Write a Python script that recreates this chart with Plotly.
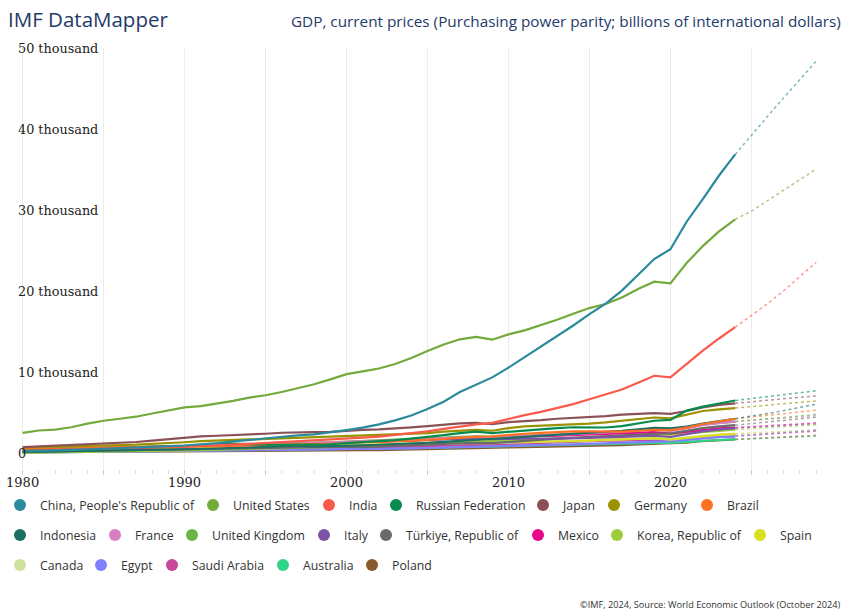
import plotly.graph_objects as go

years = list(range(1980, 2030))
last_actual = 2024

countries = ["China, People's Republic of", "United States", "India", "Russian Federation", "Japan",
             "Germany", "Brazil", "Indonesia", "France", "United Kingdom", "Italy",
             "Türkiye, Republic of", "Mexico", "Korea, Republic of", "Spain", "Canada", "Egypt",
             "Saudi Arabia", "Australia", "Poland"]

colors = ["#2b8a9b", "#74a93b", "#f95a4c", "#078b4f", "#8b5157", "#9a9200", "#fe7022",
          "#1c6f65", "#d87fc1", "#6cb545", "#7b53a7", "#6a6a6a", "#e8078b", "#9dcd3d",
          "#d8e021", "#cde39d", "#8080ff", "#c6479b", "#2fd38a", "#895a2d"]

# GDP, PPP, billions of international dollars (1980-2029; 2025+ projections)
china = [300,340,390,450,520,600,660,750,860,930, 1000,1120,1300,1500,1700,1880,2060,2240,2380,2600,
         2900,3200,3600,4100,4700,5500,6400,7600,8500,9400, 10600,11900,13100,14400,15800,17200,18500,20100,22000,24000,
         25200,28600,31400,34300,36900,39300,41600,43900,46200,48400]
usa = [2550,2850,2950,3250,3700,4050,4300,4550,4950,5350, 5700,5850,6150,6500,6900,7200,7600,8050,8550,9150,
       9800,10150,10500,11050,11800,12650,13450,14100,14400,14050, 14700,15200,15850,16500,17250,17950,18450,19250,20300,21200,
       21000,23500,25600,27400,28900,29900,31200,32500,33800,35100]
india = [380,430,470,520,560,610,650,700,780,850, 920,960,1030,1100,1200,1310,1430,1520,1620,1780,
         1850,1980,2100,2300,2520,2750,3050,3350,3600,3800, 4300,4750,5150,5600,6100,6700,7300,7900,8750,9600,
         9400,11100,12700,14200,15600,17000,18500,20100,21800,23600]
russia = [None,None,None,None,None,None,None,None,None,None, None,None,1300,1230,1120,1100,1080,1120,1070,1150,
          1300,1400,1500,1660,1840,2030,2270,2520,2700,2530, 2680,2880,3050,3150,3250,3200,3220,3380,3700,4050,
          4150,5300,5800,6200,6550,6800,7000,7250,7500,7750]
japan = [800,890,970,1040,1130,1230,1320,1430,1600,1800, 1980,2120,2200,2260,2330,2450,2570,2650,2640,2680,
         2820,2920,2980,3080,3240,3380,3540,3720,3780,3620, 3880,3970,4120,4300,4380,4550,4620,4800,4920,5000,
         4900,5250,5700,6000,6200,6400,6600,6800,6950,7100]
germany = [720,790,840,890,950,1000,1050,1100,1180,1280, 1400,1530,1600,1630,1720,1790,1840,1900,1970,2040,
           2140,2220,2270,2320,2430,2530,2700,2850,2930,2820, 3150,3350,3420,3500,3620,3700,3850,4050,4250,4450,
           4350,4800,5250,5450,5620,5800,6000,6200,6350,6500]
brazil = [550,570,600,600,650,720,790,830,850,900, 880,910,920,980,1040,1100,1140,1200,1210,1230,
          1300,1360,1420,1470,1600,1700,1800,1970,2100,2120, 2300,2450,2550,2670,2750,2730,2680,2720,2820,2930,
          2900,3200,3650,3950,4300,4500,4700,4900,5100,5350]
indonesia = [200,230,250,270,300,320,350,380,420,470, 520,570,630,690,760,840,930,990,880,900,
             960,1030,1090,1150,1240,1340,1440,1570,1680,1750, 1870,2020,2170,2310,2450,2550,2670,2820,3000,3170,
             3120,3330,3700,4000,4300,4600,4950,5300,5700,6100]
france = [500,560,610,640,680,720,750,790,850,920, 980,1020,1060,1080,1120,1170,1210,1260,1330,1390,
          1490,1570,1620,1630,1700,1790,1900,2000,2050,2020, 2120,2220,2260,2350,2400,2500,2550,2650,2800,2950,
          2800,3100,3500,3750,3950,4100,4250,4400,4550,4700]
uk = [450,500,540,580,620,670,700,750,820,880, 930,950,980,1030,1090,1140,1200,1270,1330,1390,
      1480,1550,1620,1690,1770,1870,1970,2070,2130,2070, 2130,2200,2270,2350,2480,2550,2650,2770,2880,3000,
      2820,3200,3600,3800,3950,4100,4300,4450,4650,4850]
italy = [500,550,590,620,660,700,740,780,840,900, 960,1000,1030,1050,1100,1150,1190,1240,1280,1320,
         1400,1480,1510,1530,1590,1650,1740,1820,1850,1780, 1820,1870,1860,1850,1870,1930,2000,2070,2150,2200,
         2050,2400,2750,2950,3150,3250,3350,3450,3550,3650]
turkiye = [200,230,260,280,310,340,370,410,440,460, 510,530,570,620,600,650,710,770,800,790,
           850,800,860,910,1000,1100,1200,1280,1330,1290, 1440,1610,1700,1840,1950,2050,2150,2330,2420,2450,
           2500,2830,3150,3350,3500,3700,3900,4100,4300,4500]
mexico = [500,570,600,600,650,680,680,710,750,800, 870,930,980,1020,1080,1030,1110,1200,1270,1320,
          1420,1430,1450,1500,1600,1680,1800,1880,1930,1840, 1970,2080,2180,2220,2300,2380,2450,2520,2620,2660,
          2480,2700,2950,3100,3200,3300,3420,3550,3670,3800]
korea = [100,120,140,160,180,200,230,270,300,340, 380,430,470,510,570,630,690,740,710,790,
         870,920,1000,1050,1140,1220,1320,1430,1490,1510, 1630,1710,1770,1840,1920,1980,2060,2150,2250,2330,
         2330,2500,2700,2850,2950,3070,3200,3320,3440,3550]
spain = [300,330,360,380,400,420,450,490,530,580, 620,660,680,700,730,770,800,850,900,950,
         1010,1070,1120,1160,1220,1300,1390,1470,1500,1460, 1470,1480,1480,1480,1520,1600,1670,1750,1830,1900,
         1730,1950,2200,2350,2450,2550,2640,2720,2800,2880]
canada = [300,340,350,370,400,430,450,480,520,550, 570,580,600,630,670,700,720,770,800,860,
          920,950,990,1030,1090,1170,1230,1290,1320,1300, 1360,1440,1490,1540,1610,1630,1660,1730,1810,1880,
          1800,2000,2200,2300,2400,2500,2600,2700,2800,2900]
egypt = [120,140,160,180,200,220,230,240,260,280, 300,310,320,340,360,380,400,430,460,500,
         530,560,580,610,640,690,750,820,890,940, 1000,1030,1070,1100,1140,1200,1270,1330,1420,1500,
         1550,1700,1900,2020,2100,2250,2400,2550,2720,2900]
saudi = [400,440,380,360,360,340,350,360,390,400, 450,500,530,540,560,570,600,620,640,640,
         690,700,710,790,860,920,980,1020,1090,1080, 1150,1280,1380,1430,1500,1560,1600,1600,1670,1720,
         1660,1800,2050,2100,2200,2300,2420,2530,2640,2750]
australia = [150,170,180,190,210,230,240,260,280,300, 320,330,340,360,380,400,430,450,480,510,
             540,560,590,620,660,700,740,790,830,850, 880,920,980,1020,1070,1100,1150,1200,1270,1330,
             1330,1450,1600,1680,1750,1820,1900,1980,2050,2130]
poland = [200,190,190,200,210,220,230,240,250,250, 240,230,240,260,270,290,310,340,360,380,
          410,420,440,470,500,530,580,630,680,700, 750,810,840,860,900,950,990,1050,1120,1200,
          1200,1350,1550,1650,1750,1850,1950,2050,2150,2250]

series = [china, usa, india, russia, japan, germany, brazil, indonesia, france, uk, italy,
          turkiye, mexico, korea, spain, canada, egypt, saudi, australia, poland]

y_tickvals = [0, 10000, 20000, 30000, 40000, 50000]
y_ticktext = ["0", "10 thousand", "20 thousand", "30 thousand", "40 thousand", "50 thousand"]
x_tickvals = [1980, 1985, 1990, 1995, 2000, 2005, 2010, 2015, 2020, 2025]
x_ticktext = ["1980", "", "1990", "", "2000", "", "2010", "", "2020", ""]

# legend layout: text start x (px) and row centre y (px) of each entry
legend_text_x = [39, 232, 348, 415, 562, 633, 726,
                 39, 134, 211, 343, 405, 557, 636, 779,
                 39, 120, 191, 302, 391]
legend_row_y = [505] * 7 + [535] * 8 + [565] * 5

fig = go.Figure()
cut = years.index(last_actual)

for name, col, vals in zip(countries, colors, series):
    fig.add_trace(go.Scatter(x=years[cut:], y=vals[cut:], mode="lines",
                             line=dict(color=col, width=1.5, dash="dot"), opacity=0.6,
                             showlegend=False, hoverinfo="skip", name=name))
for name, col, vals in reversed(list(zip(countries, colors, series))):
    fig.add_trace(go.Scatter(x=years[:cut + 1], y=vals[:cut + 1], mode="lines",
                             line=dict(color=col, width=2.2), showlegend=False, name=name))

legends = {}
for i, (name, col, tx, ty) in enumerate(zip(countries, colors, legend_text_x, legend_row_y)):
    key = "legend" if i == 0 else f"legend{i+1}"
    fig.add_trace(go.Scatter(x=[None], y=[None], mode="markers", name=name,
                             marker=dict(color=col, size=12, symbol="circle"),
                             legend=key, showlegend=True))
    legends[key] = dict(orientation="h", xref="container", yref="container",
                        x=(tx - 39) / 850, y=1 - ty / 614, xanchor="left", yanchor="middle",
                        font=dict(family="Open Sans", size=12.3, color="#333"),
                        bgcolor="rgba(0,0,0,0)", itemwidth=30)

fig.update_layout(
    width=850, height=614,
    paper_bgcolor="white", plot_bgcolor="white",
    margin=dict(l=21, r=33, t=48, b=145, autoexpand=False),
    title=dict(text="IMF DataMapper", x=8 / 850, xanchor="left", y=1 - 20 / 614, yanchor="middle",
               font=dict(family="Open Sans", size=20.5, color="#243a68")),
    xaxis=dict(range=[1979.9, 2029.05], tickvals=x_tickvals, ticktext=x_ticktext,
               showgrid=True, gridcolor="#ececec", gridwidth=1, zeroline=False, showline=False,
               ticks="outside", ticklen=5, tickcolor="#cccccc", ticklabeloverflow="allow",
               ticklabelstandoff=-4,
               tickfont=dict(family="DejaVu Serif", size=13, color="#222"),
               minor=dict(dtick=1, ticks="outside", ticklen=4, tickcolor="#dddddd", showgrid=False)),
    yaxis=dict(range=[-1900, 50030], tickvals=y_tickvals, ticktext=y_ticktext,
               showgrid=False, zeroline=False, showline=False,
               ticklabelposition="inside", ticklabelstandoff=-6, ticklabeloverflow="allow",
               tickfont=dict(family="DejaVu Serif", size=12.8, color="#222")),
    annotations=[
        dict(text="GDP, current prices (Purchasing power parity; billions of international dollars)",
             xref="paper", yref="paper", x=(843 - 21) / 796, y=(467 - 19) / 421,
             xanchor="right", yanchor="middle", showarrow=False,
             font=dict(family="Open Sans", size=15.3, color="#243a68")),
        dict(text="©IMF, 2024, Source: World Economic Outlook (October 2024)",
             xref="paper", yref="paper", x=(843 - 21) / 796, y=(467 - 602) / 421,
             xanchor="right", yanchor="middle", showarrow=False,
             font=dict(family="Open Sans", size=9.2, color="#333")),
    ],
    **legends,
)

fig.write_html("out.html", config={"displayModeBar": False},
               post_script="document.body.style.margin='0';")
